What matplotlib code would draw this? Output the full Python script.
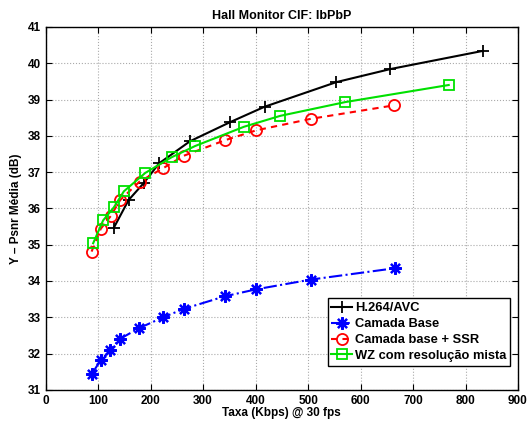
import matplotlib
matplotlib.use("Agg")
import matplotlib.pyplot as plt

plt.rcParams['font.family'] = ['Liberation Sans', 'DejaVu Sans']
plt.rcParams['font.weight'] = 'bold'

h264_x = [130, 158, 187, 216, 275, 352, 417, 554, 657, 833]
h264_y = [35.47, 36.23, 36.70, 37.24, 37.85, 38.38, 38.80, 39.48, 39.84, 40.34]

base_x = [87.5, 105, 123, 141, 178, 224, 263, 342, 401, 506, 665]
base_y = [31.43, 31.82, 32.09, 32.40, 32.70, 33.00, 33.23, 33.58, 33.77, 34.04, 34.35]

ssr_x = [87.5, 105, 124, 142, 179, 223, 263, 342, 401, 506, 664]
ssr_y = [34.81, 35.44, 35.79, 36.23, 36.74, 37.10, 37.45, 37.88, 38.15, 38.47, 38.84]

wz_x = [90.5, 109.5, 130, 149, 190, 240, 285, 378, 447, 571, 768]
wz_y = [35.04, 35.67, 36.03, 36.47, 36.98, 37.41, 37.72, 38.25, 38.55, 38.93, 39.40]

labels = ['H.264/AVC', 'Camada Base', 'Camada base + SSR', 'WZ com resolução mista']
xticks = [0, 100, 200, 300, 400, 500, 600, 700, 800, 900]
yticks = [31, 32, 33, 34, 35, 36, 37, 38, 39, 40, 41]

fig = plt.figure(figsize=(5.31, 4.21), dpi=100)
ax = fig.add_axes([0.086, 0.074, 0.8895, 0.862])

ax.plot(h264_x, h264_y, color='black', linestyle='-', marker='+', markersize=9,
        markeredgewidth=1.3, linewidth=1.5, label=labels[0])
ax.plot(base_x, base_y, color='blue', linestyle='-.', marker=(8, 2, 0), markersize=9,
        markeredgewidth=1.6, linewidth=1.5, label=labels[1])
ax.plot(ssr_x, ssr_y, color='red', linestyle=(0, (3, 2.5)), marker='o', markersize=8,
        markerfacecolor='none', markeredgewidth=1.3, linewidth=1.5, label=labels[2])
ax.plot(wz_x, wz_y, color='#00e000', linestyle='-', marker='s', markersize=7,
        markerfacecolor='none', markeredgewidth=1.3, linewidth=1.5, label=labels[3])

ax.set_xlim(0, 900)
ax.set_ylim(31, 41)
ax.set_xticks(xticks)
ax.set_yticks(yticks)
ax.tick_params(direction='in', top=True, right=True, labelsize=8.5, length=4)
for lbl in ax.get_xticklabels() + ax.get_yticklabels():
    lbl.set_fontweight('bold')
ax.grid(True, linestyle=':', color='#aaaaaa', linewidth=0.8)
for s in ax.spines.values():
    s.set_linewidth(1.0)

ax.set_title('Hall Monitor CIF: IbPbP', fontsize=9, fontweight='bold', pad=6)
ax.set_xlabel('Taxa (Kbps) @ 30 fps', fontsize=8.5, fontweight='bold', labelpad=0)
ax.set_ylabel('Y – Psnr Média (dB)', fontsize=8.5, fontweight='bold', labelpad=4)

leg = ax.legend(loc='lower right', bbox_to_anchor=(0.983, 0.066), borderaxespad=0,
                fontsize=9.3, frameon=True, fancybox=False,
                edgecolor='black', framealpha=1, handlelength=1.6, handletextpad=0.2,
                borderpad=0.3, labelspacing=0.3)
leg.get_frame().set_linewidth(1.0)
for t in leg.get_texts():
    t.set_fontweight('bold')

fig.savefig('out.png', dpi=100)
